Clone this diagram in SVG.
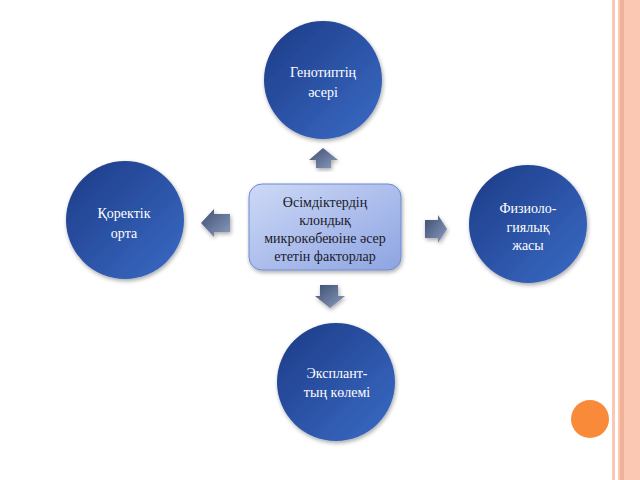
<svg xmlns="http://www.w3.org/2000/svg" width="640" height="480" viewBox="0 0 640 480">
<defs>
<linearGradient id="gCirc" x1="0" y1="0" x2="1" y2="1">
<stop offset="0" stop-color="#1d3a86"/>
<stop offset="1" stop-color="#3a6cc6"/>
</linearGradient>
<linearGradient id="gBox" x1="0" y1="0" x2="1" y2="1">
<stop offset="0" stop-color="#cdd9f6"/>
<stop offset="1" stop-color="#8ea4e2"/>
</linearGradient>
<linearGradient id="gArrV" x1="0" y1="0" x2="1" y2="1">
<stop offset="0" stop-color="#3e4e70"/>
<stop offset="1" stop-color="#8a9cc0"/>
</linearGradient>
<filter id="sh" x="-20%" y="-20%" width="140%" height="140%">
<feGaussianBlur in="SourceAlpha" stdDeviation="2"/>
<feOffset dx="1" dy="2"/>
<feComponentTransfer><feFuncA type="linear" slope="0.35"/></feComponentTransfer>
<feMerge><feMergeNode/><feMergeNode in="SourceGraphic"/></feMerge>
</filter>
</defs>
<style>
.circ{fill:url(#gCirc);filter:url(#sh)}
.ct{font-family:'Liberation Serif','Times New Roman',serif;font-size:14px;fill:#ffffff;text-anchor:middle}
.bt{font-family:'Liberation Serif','Times New Roman',serif;font-size:14px;fill:#1a1a2a;text-anchor:middle}
.arr{fill:url(#gArrV);filter:url(#sh)}
</style>
<rect width="640" height="480" fill="#ffffff"/>
<g id="decor">
<rect x="612" y="0" width="3" height="480" fill="#f8c9b6"/>
<rect x="618" y="0" width="22" height="480" fill="#fbc8b4"/>
<rect x="620" y="0" width="4" height="480" fill="#efb299"/>
<circle cx="590" cy="419" r="19" fill="#f98a3a"/>
</g>
<g id="connectors">
<polygon class="arr" points="323,148 338,160 331,160 331,168 316,168 316,160 309,160"/>
<polygon class="arr" points="201,223 214,209 214,214 230,214 230,232 214,232 214,237"/>
<polygon class="arr" points="447,229 438,215 438,220 425,220 425,238 438,238 438,243"/>
<polygon class="arr" points="330,308 345,296 338,296 338,285 320,285 320,296 315,296"/>
</g>
<g id="center">
<rect x="249" y="184" width="152" height="86" rx="13" fill="url(#gBox)" stroke="#6f8bd2" stroke-width="1" filter="url(#sh)"/>
<text class="bt" x="325" y="207">Өсімдіктердің</text>
<text class="bt" x="325" y="225">клондық</text>
<text class="bt" x="325" y="243">микрокөбеюіне әсер</text>
<text class="bt" x="325" y="261">ететін факторлар</text>
</g>
<g id="top">
<circle class="circ" cx="323" cy="80" r="59"/>
<text class="ct" x="323" y="77">Генотиптің</text>
<text class="ct" x="323" y="97">әсері</text>
</g>
<g id="left">
<circle class="circ" cx="125" cy="220" r="59"/>
<text class="ct" x="124" y="218">Қоректік</text>
<text class="ct" x="124" y="238">орта</text>
</g>
<g id="right">
<circle class="circ" cx="528" cy="224" r="59"/>
<text class="ct" x="528" y="213">Физиоло-</text>
<text class="ct" x="528" y="232">гиялық</text>
<text class="ct" x="528" y="250">жасы</text>
</g>
<g id="bottom">
<circle class="circ" cx="336" cy="382" r="59"/>
<text class="ct" x="337" y="378">Эксплант-</text>
<text class="ct" x="337" y="397">тың көлемі</text>
</g>
</svg>
